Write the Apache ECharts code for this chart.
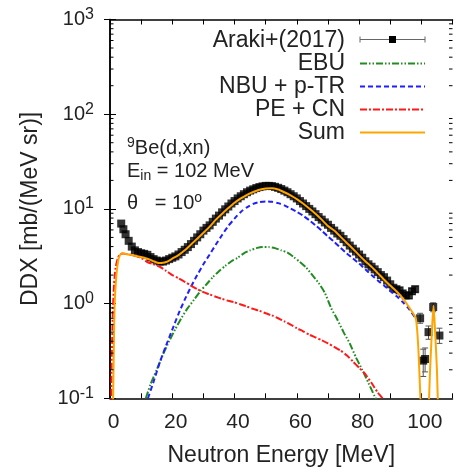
<!DOCTYPE html>
<html><head><meta charset="utf-8">
<script src="https://cdn.jsdelivr.net/npm/echarts@6/dist/echarts.min.js"></script>
<style>html,body{margin:0;padding:0;background:#fff}#c{width:454px;height:475px}</style>
</head><body><div id="c"></div><script>
// ---- data ----
const arakiE = [3.6,4.3,5,6,7,8,9,10,11,12,13,14,15,16,17,18,19,20,21,22,23,24,25,26,27,28,29,30,31,32,33,34,35,36,37,38,39,40,41,42,43,44,45,46,47,48,49,50,51,52,53,54,55,56,57,58,59,60,61,62,63,64,65,66,67,68,69,70,71,72,73,74,75,76,77,78,79,80,81,82,83,84,85,86,87,88,89,90,91,92,93,94,95,96,97,98,99.6,100.6,101.2,102.3,103.8,105.8];
const arakiDDX = [7.0,6.1,5.4,4.6,4.0,3.65,3.5,3.4,3.35,3.27,3.1,2.95,2.85,2.78,2.78,2.85,2.95,3.05,3.15,3.3,3.5,3.7,3.95,4.25,4.6,5.0,5.4,5.9,6.3,6.7,7.3,7.9,8.5,9.2,9.9,10.6,11.4,12.1,12.9,13.6,14.3,15.0,15.6,16.1,16.6,17.0,17.3,17.5,17.5,17.4,17.1,16.7,16.2,15.6,15.0,14.3,13.6,12.9,12.1,11.4,10.7,10.0,9.4,8.8,8.2,7.7,7.2,6.8,6.3,5.9,5.5,5.2,4.8,4.45,4.1,3.8,3.55,3.3,3.05,2.8,2.6,2.45,2.3,2.15,2.0,1.9,1.75,1.6,1.47,1.42,1.38,1.28,1.22,1.22,1.35,1.42,0.70,0.25,0.26,0.50,0.92,0.46];
const errE  = [92,93,94,95,96,97,98,99.6,100.6,101.2,102.3,103.8,105.8];
const errLo = [1.33,1.29,1.19,1.13,1.13,1.25,1.32,0.62,0.17,0.19,0.42,0.82,0.38];
const errHi = [1.51,1.47,1.37,1.31,1.31,1.45,1.52,0.79,0.33,0.34,0.58,1.02,0.55];

const ebuE = [11.5,13,15,17,19,21,23,25,27,29,31,33,35,37,39,41,43,45,47,49,51,53,55,57,59,61,63,65,67,69,71,73,75,77,79,81,83,85,86];
const ebuV = [0.1,0.14,0.2,0.29,0.4,0.54,0.71,0.9,1.1,1.35,1.6,1.9,2.2,2.5,2.8,3.05,3.4,3.65,3.85,3.95,3.95,3.85,3.65,3.45,3.1,2.75,2.4,2.0,1.65,1.3,0.9,0.68,0.5,0.38,0.27,0.2,0.145,0.105,0.09];

const nbuE = [12.2,14,16,18,20,22,24,26,28,30,32,34,36,38,40,42,44,46,48,50,52,54,56,58,60,62,64,66,68,70,72,74,76,78,80,82,84,86,88,90,92,94,96,98.2];
const nbuV = [0.1,0.15,0.24,0.36,0.53,0.78,1.1,1.5,2.0,2.6,3.3,4.2,5.3,6.6,7.9,9.3,10.4,11.3,11.8,12.0,11.9,11.5,10.9,10.1,9.3,8.5,7.6,6.7,5.9,5.1,4.5,3.9,3.4,3.0,2.65,2.3,2.0,1.75,1.55,1.36,1.2,1.04,0.88,0.70];

const peE = [0.2,0.4,0.6,0.9,1.3,1.8,2.5,3.2,4,5,6,7,8,9,10,12,14,16,18,20,22,24,26,28,30,32,34,36,38,40,42,44,46,48,50,52,54,56,58,60,62,64,66,68,70,72,74,76,78,80,82,84,86,87.5,88];
const peV = [0.03,0.1,0.3,0.8,1.6,2.4,3.0,3.3,3.38,3.35,3.3,3.25,3.2,3.12,3.05,2.75,2.6,2.45,2.22,2.0,1.85,1.7,1.55,1.42,1.32,1.25,1.18,1.12,1.07,1.03,0.98,0.93,0.88,0.84,0.79,0.75,0.70,0.65,0.60,0.55,0.51,0.47,0.44,0.41,0.38,0.35,0.32,0.285,0.245,0.21,0.18,0.145,0.115,0.1,0.092];

const sumE = [0.8,1.0,1.3,1.5,2.0,2.6,3.2,4,5,6,7,8,9,10,11,12,13,14,15,16,17,18,19,20,22,24,26,28,30,32,34,36,38,40,42,44,46,48,50,52,54,56,58,60,62,64,66,68,70,72,74,76,78,80,82,84,86,88,90,92,94,96,98.2,99,99.6,100.2,101,102,102.8,103.5,103.9,104.3,105,105.6];
const sumV = [0.03,0.1,0.5,1.0,1.9,2.8,3.25,3.4,3.35,3.3,3.25,3.2,3.15,3.1,3.05,2.98,2.9,2.8,2.72,2.68,2.7,2.75,2.85,2.98,3.25,3.65,4.2,4.85,5.6,6.5,7.7,8.9,10.2,11.6,12.9,14.1,15.1,15.9,16.4,16.5,16.0,15.0,13.9,12.7,11.4,10.1,8.9,7.7,6.6,5.9,5.1,4.4,3.8,3.25,2.8,2.45,2.1,1.8,1.55,1.35,1.14,0.92,0.70,0.35,0.12,0.04,0.02,0.04,0.2,0.6,0.95,0.6,0.2,0.04];

const xTicks = [0,20,40,60,80,100];
const yMinorTicks = [0.2,0.3,0.4,0.5,0.6,0.7,0.8,0.9,2,3,4,5,6,7,8,9,20,30,40,50,60,70,80,90,200,300,400,500,600,700,800,900];

const zip = (a, b) => a.map((v, i) => [v, b[i]]);
const FONT = '"Liberation Sans", Arial, sans-serif';

const chart = echarts.init(document.getElementById('c'), null, {renderer: 'canvas'});
const axLine = {show: true, lineStyle: {color: '#000', width: 1.5}};

function yAx(pos, labels) {
  return {
    type: 'log', logBase: 10, min: 0.1, max: 1000, position: pos,
    axisLine: axLine, splitLine: {show: false},
    axisTick: {show: true, inside: true, length: 6, lineStyle: {color: '#000', width: 1}},
    axisLabel: labels ? {
      show: true, margin: 16, fontFamily: FONT, color: '#222',
      formatter: v => '{b|10}{s|' + Math.round(Math.log10(v)) + '}',
      rich: {b: {fontSize: 20, lineHeight: 26, fontFamily: FONT, color: '#222'},
             s: {fontSize: 16, lineHeight: 16, verticalAlign: 'top', fontFamily: FONT, color: '#222'}}
    } : {show: false},
    name: labels ? 'DDX [mb/(MeV sr)]' : '', nameLocation: 'middle', nameGap: 68,
    nameTextStyle: {fontSize: 23, fontFamily: FONT, color: '#222'}
  };
}
function xAx(pos, labels) {
  return {
    type: 'value', min: 0, max: 110, interval: 10, position: pos,
    axisLine: axLine, splitLine: {show: false},
    axisTick: {show: true, inside: true, length: 5, lineStyle: {color: '#000', width: 1}},
    axisLabel: labels ? {
      show: true, margin: 13, fontSize: 21, fontFamily: FONT, color: '#222', padding: [0, 0, 0, 7],
      formatter: v => xTicks.includes(v) ? String(v) : ''
    } : {show: false},
    name: labels ? 'Neutron Energy [MeV]' : '', nameLocation: 'middle', nameGap: 46,
    nameTextStyle: {fontSize: 23, fontFamily: FONT, color: '#222'}
  };
}

const lineSeries = (name, xs, ys, color, type, width) => ({
  name, type: 'line', xAxisIndex: 0, yAxisIndex: 0, data: zip(xs, ys),
  showSymbol: false, symbol: 'none', smooth: 0.2, clip: true,
  lineStyle: {color, width, type}, itemStyle: {color}, z: 3
});

// legend sample for the data (error bar + square), placed next to its legend text
const legIconX0 = 360, legIconX1 = 425, legIconY = 39.5;
const errLegend = {
  type: 'group', children: [
    {type: 'line', shape: {x1: legIconX0, y1: legIconY, x2: legIconX1, y2: legIconY}, style: {stroke: '#666', lineWidth: 1}},
    {type: 'line', shape: {x1: legIconX0, y1: legIconY - 3, x2: legIconX0, y2: legIconY + 3}, style: {stroke: '#666', lineWidth: 1}},
    {type: 'line', shape: {x1: legIconX1, y1: legIconY - 3, x2: legIconX1, y2: legIconY + 3}, style: {stroke: '#666', lineWidth: 1}},
    {type: 'rect', shape: {x: (legIconX0 + legIconX1) / 2 - 3.5, y: legIconY - 3.5, width: 7, height: 7}, style: {fill: '#000'}}
  ]
};

const option = {
  animation: false,
  backgroundColor: '#fff',
  grid: {left: 110, right: 1.5, top: 19.5, bottom: 76.7, containLabel: false, outerBoundsMode: 'none'},
  xAxis: [xAx('bottom', true), xAx('top', false)],
  yAxis: [yAx('left', true), yAx('right', false)],
  legend: {
    orient: 'vertical', right: 23, top: 24, align: 'right', itemWidth: 65, itemHeight: 10, itemGap: 0,
    textStyle: {fontSize: 23, lineHeight: 23, fontFamily: FONT, color: '#222', padding: [0, 10, 0, 0]},
    data: [
      {name: 'Araki+(2017)', itemStyle: {opacity: 0}},
      {name: 'EBU', itemStyle: {opacity: 0}},
      {name: 'NBU + p-TR', itemStyle: {opacity: 0}},
      {name: 'PE + CN', itemStyle: {opacity: 0}},
      {name: 'Sum', itemStyle: {opacity: 0}}
    ]
  },
  graphic: [
    errLegend,
    {type: 'text', left: 127, top: 136, style: {
      text: '{s|9}{n|Be(d,xn)}', rich: {n: {fontSize: 20, lineHeight: 24, fontFamily: FONT, fill: '#222'},
        s: {fontSize: 14, lineHeight: 14, verticalAlign: 'top', fontFamily: FONT, fill: '#222'}}}},
    {type: 'text', left: 127, top: 161, style: {
      text: '{n|E}{b|in}{n| = 102 MeV}', rich: {n: {fontSize: 20, lineHeight: 24, fontFamily: FONT, fill: '#222'},
        b: {fontSize: 14, lineHeight: 14, verticalAlign: 'bottom', fontFamily: FONT, fill: '#222'}}}},
    {type: 'text', left: 127, top: 191, style: {
      text: '{n|θ   = 10}{s|o}', rich: {n: {fontSize: 20, lineHeight: 24, fontFamily: FONT, fill: '#222'},
        s: {fontSize: 14, lineHeight: 14, verticalAlign: 'top', fontFamily: FONT, fill: '#222'}}}}
  ],
  series: [
    // minor log ticks on both vertical axes, placed through the y scale
    {name: 'minorTicks', type: 'custom', xAxisIndex: 0, yAxisIndex: 0, silent: true, z: 5,
     data: yMinorTicks.map(v => [0, v]), encode: {x: 0, y: 1},
     renderItem: (params, api) => {
       const pl = api.coord([0, api.value(1)]);
       const pr = api.coord([110, api.value(1)]);
       const st = {stroke: '#000', lineWidth: 1};
       return {type: 'group', children: [
         {type: 'line', shape: {x1: pl[0], y1: pl[1], x2: pl[0] + 3.5, y2: pl[1]}, style: st},
         {type: 'line', shape: {x1: pr[0] - 3.5, y1: pr[1], x2: pr[0], y2: pr[1]}, style: st}
       ]};
     }},
    {name: 'Araki+(2017)', type: 'scatter', xAxisIndex: 0, yAxisIndex: 0, data: zip(arakiE, arakiDDX),
     symbol: 'rect', symbolSize: 8, itemStyle: {color: '#000'}, z: 2},
    {name: 'err', type: 'custom', xAxisIndex: 0, yAxisIndex: 0, z: 2,
     data: errE.map((e, i) => [e, errLo[i], errHi[i]]),
     encode: {x: 0, y: [1, 2]},
     renderItem: (params, api) => {
       const p1 = api.coord([api.value(0), api.value(1)]);
       const p2 = api.coord([api.value(0), api.value(2)]);
       const st = {stroke: '#555', lineWidth: 1};
       return {type: 'group', children: [
         {type: 'line', shape: {x1: p1[0], y1: p1[1], x2: p2[0], y2: p2[1]}, style: st},
         {type: 'line', shape: {x1: p1[0] - 3, y1: p1[1], x2: p1[0] + 3, y2: p1[1]}, style: st},
         {type: 'line', shape: {x1: p2[0] - 3, y1: p2[1], x2: p2[0] + 3, y2: p2[1]}, style: st}
       ]};
     }},
    lineSeries('EBU', ebuE, ebuV, '#228b22', [7, 2, 1.5, 2, 1.5, 2], 2),
    lineSeries('NBU + p-TR', nbuE, nbuV, '#1f1fff', [5, 3], 2),
    lineSeries('PE + CN', peE, peV, '#ff1a1a', [7, 2, 2, 2], 2),
    lineSeries('Sum', sumE, sumV, '#ffa500', 'solid', 2)
  ]
};
chart.setOption(option);
</script></body></html>
